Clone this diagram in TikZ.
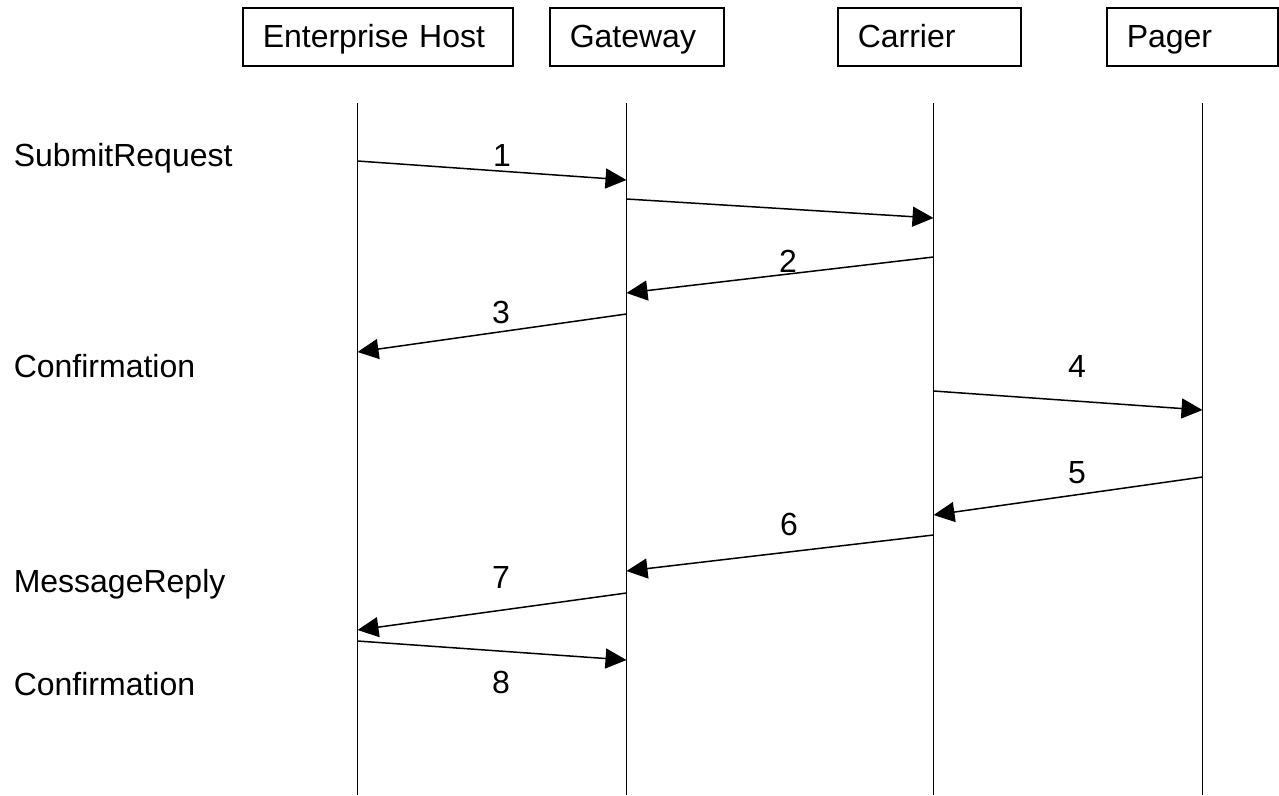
\documentclass[tikz,border=0pt]{standalone}
\usepackage{fontspec}
\setmainfont{Liberation Sans}
\usetikzlibrary{arrows.meta}

\begin{document}
\begin{tikzpicture}[x=1pt, y=-1pt, line width=1.5pt,
    every node/.style={font=\fontsize{32}{38}\selectfont, inner sep=0pt},
    actor/.style={draw, inner xsep=20pt, minimum height=58pt, text height=23pt, text depth=1pt, anchor=north west, align=left},
    msg/.style={-{Triangle[length=21pt, width=20pt]}}]
    \useasboundingbox (0,0) rectangle (1279,795);

    % Actors
    \foreach \name/\x/\tw/\txt in {EH/242/230/Enterprise Host, GW/549/134/Gateway, CR/837/143/Carrier, PG/1106/131/Pager}
    \node[actor, text width=\tw pt] (\name) at (\x,7) {\txt};

    % Lifelines
    \foreach \name/\x in {EH/357.5, GW/626.5, CR/933.5, PG/1202.5} {
      \coordinate (\name t) at (\x,103);
      \coordinate (\name b) at (\x,795);
      \draw (\name t) -- (\name b);
    }

    % Messages
    \foreach \i/\a/\ya/\b/\yb in {1/EH/161/GW/180, 2/GW/199/CR/218, 3/CR/257/GW/293, 4/GW/314/EH/352, 5/CR/391/PG/410, 6/PG/477/CR/515, 7/CR/535/GW/571, 8/GW/593/EH/630, 9/EH/641/GW/660} {
      \coordinate (s\i) at (\a t |- 0,\ya);
      \coordinate (e\i) at (\b t |- 0,\yb);
      \draw[msg] (s\i) -- (e\i);
    }

    % Step numbers
    \foreach \n/\x/\y in {1/502/166, 2/788/272, 3/501/323, 4/1077/377, 5/1077/483, 6/789/535, 7/501/588, 8/501/693}
    \node[anchor=base] (n\n) at (\x,\y) {\n};

    % Phase labels
    \foreach \k/\y/\txt in {1/166/SubmitRequest, 2/377/Confirmation, 3/592/MessageReply, 4/695/Confirmation}
    \node[anchor=base west] (p\k) at (13,\y) {\txt};
  \end{tikzpicture}
\end{document}
